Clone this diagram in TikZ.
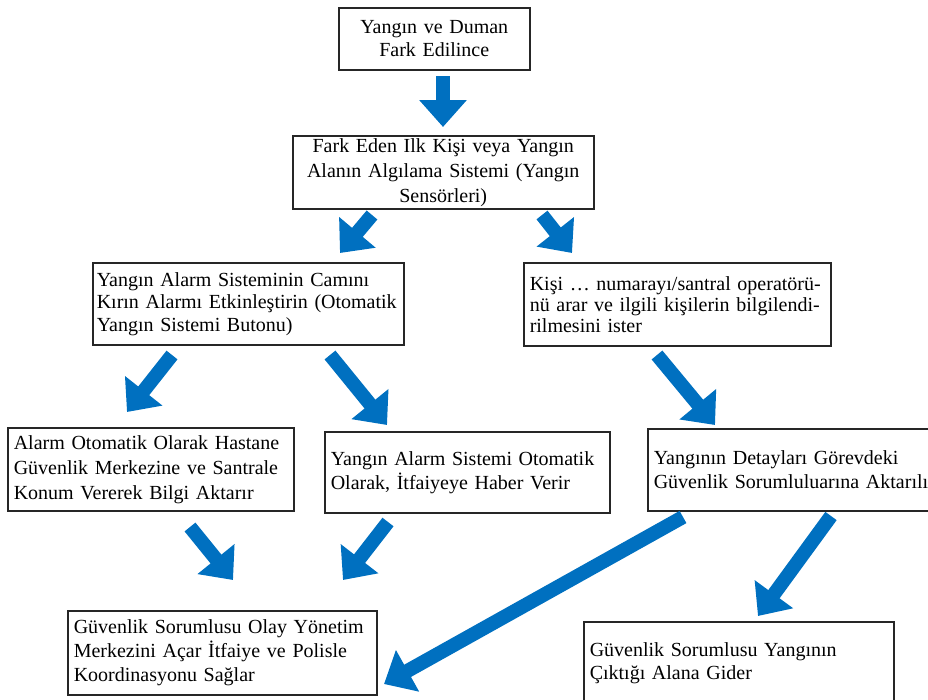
\documentclass[tikz,border=0pt]{standalone}
\usepackage{fontspec}
\setmainfont{Liberation Serif}
\usetikzlibrary{arrows.meta}
\definecolor{arrowblue}{RGB}{0,112,192}
\tikzset{
	stepbox/.style={draw=black!85,line width=1.5pt,anchor=north west,inner xsep=6pt,inner ysep=2pt,font=\fontsize{20}{23}\selectfont},
	bigarrow/.style={draw=arrowblue,line width=14pt,-{Triangle[width=46pt,length=27pt]}}
}
\begin{document}
\begin{tikzpicture}[x=1pt,y=-1pt]
	\useasboundingbox (0,0) rectangle (928,699);
	\node[stepbox,align=center,text width=179pt,minimum height=62pt] (fark) at (338,7) {Yangın ve Duman\\Fark Edilince};
	\node[stepbox,align=center,text width=289pt,minimum height=73pt,font=\fontsize{20}{25}\selectfont] (ilk) at (292,135) {Fark Eden Ilk Kişi veya Yangın\\Alanın Algılama Sistemi (Yangın\\Sensörleri)};
	\node[stepbox,align=left,inner xsep=4pt,text width=303pt,minimum height=82pt,font=\fontsize{20}{22.5}\selectfont] (cam) at (92,262) {\mbox{Yangın Alarm Sisteminin Camını}\\\mbox{Kırın Alarmı Etkinleştirin (Otomatik}\\\mbox{Yangın Sistemi Butonu)}};
	\node[stepbox,align=left,text width=295pt,minimum height=83pt,font=\fontsize{20}{21}\selectfont] (kisi) at (523,262) {Kişi … numarayı/santral operatörü-\\nü arar ve ilgili kişilerin bilgilendi-\\rilmesini ister};
	\node[stepbox,align=left,text width=274pt,minimum height=83pt,font=\fontsize{20}{25}\selectfont] (merkez) at (7,427) {Alarm Otomatik Olarak Hastane\\Güvenlik Merkezine ve Santrale\\Konum Vererek Bilgi Aktarır};
	\node[stepbox,align=left,text width=273pt,minimum height=81pt,font=\fontsize{20}{24}\selectfont] (itfaiye) at (324,431) {Yangın Alarm Sistemi Otomatik\\Olarak, İtfaiyeye Haber Verir};
	\node[stepbox,align=left,text width=288pt,minimum height=82pt,font=\fontsize{20}{24}\selectfont] (detay) at (647,428) {Yangının Detayları Görevdeki\\Güvenlik Sorumluluarına Aktarılır};
	\node[stepbox,align=left,text width=297pt,minimum height=84pt,font=\fontsize{20}{24}\selectfont] (olay) at (67,610) {Güvenlik Sorumlusu Olay Yönetim\\Merkezini Açar İtfaiye ve Polisle\\Koordinasyonu Sağlar};
	\node[stepbox,align=left,text width=298pt,minimum height=82pt,font=\fontsize{20}{23}\selectfont] (gider) at (583,621) {Güvenlik Sorumlusu Yangının\\Çıktığı Alana Gider};
	% arrow ends
	\coordinate (a1s) at (443,76);  \coordinate (a1e) at (443,127);
	\coordinate (a2s) at (372,215); \coordinate (a2e) at (340,253);
	\coordinate (a3s) at (542,215); \coordinate (a3e) at (572,253);
	\coordinate (a4s) at (172,355); \coordinate (a4e) at (127,412);
	\coordinate (a5s) at (330,355); \coordinate (a5e) at (387,425);
	\coordinate (a6s) at (657,355); \coordinate (a6e) at (715,425);
	\coordinate (a7s) at (190,527); \coordinate (a7e) at (233,580);
	\coordinate (a8s) at (388,522); \coordinate (a8e) at (343,580);
	\coordinate (a9s) at (683,517); \coordinate (a9e) at (384,684);
	\coordinate (a10s) at (831,516); \coordinate (a10e) at (758,616);
	\foreach \i in {1,...,10}
		\draw[bigarrow] (a\i s)--(a\i e);
\end{tikzpicture}
\end{document}
